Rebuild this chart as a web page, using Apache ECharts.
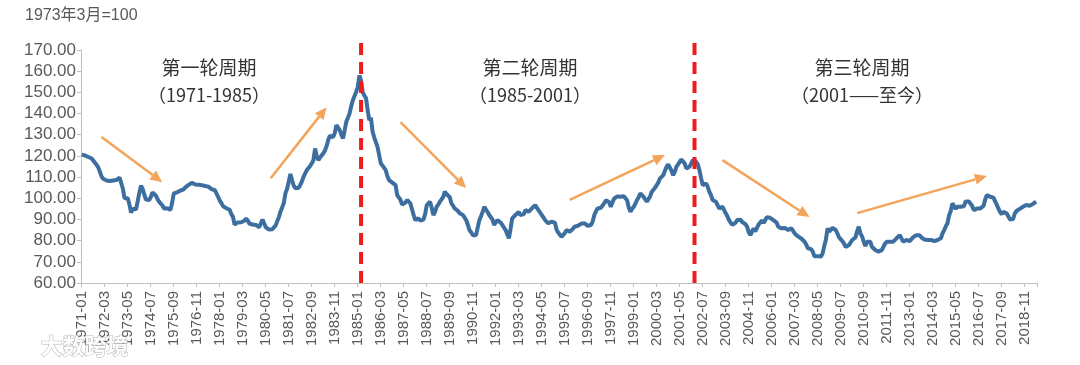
<!DOCTYPE html>
<html>
<head>
<meta charset="utf-8">
<script src="https://cdn.jsdelivr.net/npm/echarts@6/dist/echarts.min.js"></script>
<style>
html,body{margin:0;padding:0;background:#fff;}
#chart{width:1080px;height:365px;}
</style>
</head>
<body>
<div id="chart"></div>
<script>
// ---- data ----
const startYear = 1971;
// monthly index values, 1971-01 .. 2019-06 (1973-03 = 100)
const dollarIndex = [
  120.6,120.4,120.2,119.9,119.5,119.2,118.8,117.9,116.8,116.0,114.6,112.5, // 1971
  110.3,109.2,108.6,108.4,108.3,108.2,108.5,108.4,108.3,108.6,109.3,109.8, // 1972
  110.2,104.5,100.0,100.6,100.0,97.0,93.2,95.0,95.3,94.8,98.5,102.5,       // 1973
  106.0,104.5,101.8,99.4,98.9,99.2,100.6,102.8,102.2,101.3,99.8,98.4,      // 1974
  98.2,96.7,95.2,95.0,95.3,95.2,94.5,98.0,102.3,103.0,102.8,103.3,         // 1975
  103.6,103.8,104.2,105.2,105.6,106.3,107.0,107.3,107.0,106.5,106.2,106.4, // 1976
  106.4,106.2,106.0,105.8,105.7,105.5,104.6,104.3,104.2,103.8,103.3,100.6, // 1977
  98.9,97.7,96.2,95.6,95.3,95.0,94.6,92.5,91.3,87.6,87.9,88.6,             // 1978
  88.4,88.7,89.2,89.4,90.5,89.5,88.1,87.6,87.6,88.2,87.4,86.9,             // 1979
  86.3,86.5,90.0,89.8,86.3,85.8,85.2,84.8,85.4,86.3,87.2,89.2,             // 1980
  91.2,93.8,95.8,97.9,102.5,104.5,108.0,111.5,108.5,106.0,104.7,104.2,     // 1981
  105.0,106.3,108.0,110.2,110.6,113.3,114.0,115.2,116.5,118.0,123.5,120.0, // 1982
  118.0,119.3,120.0,121.2,122.5,124.6,127.5,129.5,128.6,128.9,130.8,134.5, // 1983
  134.5,132.2,130.0,128.3,132.0,136.1,138.0,140.0,143.5,146.3,147.1,150.2, // 1984
  152.5,158.0,155.5,150.0,148.5,147.3,141.6,136.9,138.0,131.5,128.8,126.5, // 1985
  124.3,120.5,116.5,115.5,114.8,113.3,110.5,108.6,108.2,107.4,106.5,106.2, // 1986
  101.5,100.7,99.2,97.0,96.8,98.0,99.2,98.4,97.6,96.8,92.1,89.7,           // 1987
  90.5,90.5,89.5,89.9,89.9,92.5,96.8,97.6,98.4,95.5,92.1,93.5,             // 1988
  96.0,97.0,98.4,99.5,100.7,103.1,102.0,101.5,100.5,97.6,96.5,95.2,        // 1989
  95.2,94.0,92.9,93.3,92.1,91.5,89.7,87.5,85.0,84.0,82.6,82.6,             // 1990
  82.6,83.0,89.7,91.5,93.6,96.0,96.0,93.5,92.1,91.3,90.0,87.4,             // 1991
  87.4,89.7,90.5,88.5,87.4,86.5,85.0,83.0,81.1,85.5,90.5,91.2,             // 1992
  92.1,93.0,93.6,92.0,91.3,92.5,94.4,94.0,93.6,94.2,95.2,96.0,             // 1993
  96.8,96.0,94.4,94.0,92.1,91.0,89.7,89.3,88.2,87.5,88.9,89.2,             // 1994
  88.5,85.2,83.8,83.0,81.8,82.0,83.5,85.0,84.8,84.2,84.8,85.6,             // 1995
  86.6,86.8,87.0,87.4,88.0,88.5,88.2,87.4,87.0,87.3,87.4,89.0,             // 1996
  92.1,93.8,95.2,96.0,95.5,96.0,97.6,99.0,99.2,98.2,96.0,98.0,             // 1997
  99.8,100.7,100.9,100.7,100.7,100.4,101.0,101.5,99.0,95.5,93.6,95.0,      // 1998
  96.0,97.5,99.2,100.5,102.3,101.5,100.7,99.5,98.4,99.0,101.0,103.1,       // 1999
  103.5,105.0,106.2,107.5,109.4,110.2,110.9,113.0,114.9,116.0,116.5,113.0, // 2000
  110.9,112.5,114.9,116.0,117.2,118.3,118.8,116.5,114.1,114.5,114.9,116.5, // 2001
  118.0,118.8,117.2,116.0,113.3,109.5,106.2,107.0,107.0,105.5,103.1,101.5, // 2002
  99.2,99.0,98.4,97.8,95.2,95.5,96.0,96.3,92.9,91.5,89.7,88.5,             // 2003
  87.4,87.2,88.5,89.7,90.2,89.9,88.8,89.0,87.8,86.6,84.0,82.6,             // 2004
  83.5,85.8,84.3,86.0,87.6,88.3,89.5,88.4,89.6,91.0,91.6,90.8,             // 2005
  90.2,89.7,89.9,88.5,86.6,86.0,85.8,85.5,86.0,85.8,85.0,84.8,             // 2006
  85.8,85.2,83.4,82.8,82.0,81.8,81.0,81.5,79.5,78.2,76.4,76.8,             // 2007
  76.0,74.8,72.6,72.4,72.6,72.8,72.5,74.0,77.5,80.5,85.8,84.2,             // 2008
  84.2,86.0,86.6,85.0,83.4,81.5,81.1,79.8,78.7,77.0,76.4,77.9,             // 2009
  78.5,80.3,81.0,81.5,84.5,86.6,83.4,82.0,79.5,77.5,79.5,80.3,             // 2010
  79.5,77.1,76.5,75.6,75.0,74.8,74.8,75.5,77.1,78.5,79.5,79.0,             // 2011
  79.5,78.7,79.5,79.8,81.1,82.0,82.6,82.0,79.5,79.8,80.3,80.0,             // 2012
  79.8,79.5,81.5,82.3,82.6,82.6,82.6,81.6,81.1,80.5,80.6,80.3,             // 2013
  80.6,80.3,80.0,79.8,79.6,80.3,80.0,81.1,83.5,85.0,86.8,88.2,             // 2014
  92.0,94.0,97.6,97.0,95.0,96.0,96.5,96.0,96.0,96.2,98.5,99.2,             // 2015
  98.5,97.6,96.5,94.4,94.0,95.2,95.8,95.2,95.4,96.5,99.5,101.5,            // 2016
  101.0,100.7,100.5,100.3,98.5,97.0,95.2,93.5,92.5,93.6,93.5,92.9,         // 2017
  91.5,90.0,89.7,90.2,92.9,94.0,94.4,95.0,95.3,96.0,96.8,96.8,             // 2018
  96.3,96.5,96.8,97.3,97.6,98.4                                            // 2019
];
const yTicks = {min: 60, max: 170, step: 10};
const unitNote = '1973年3月=100';
const cycleDividers = ['1985-03', '2002-02'];
const cycleTitles = ['第一轮周期', '第二轮周期', '第三轮周期'];
const cycleSpans = ['（1971-1985）', '（1985-2001）', '（2001——至今）'];
// trend arrows: [start month, start value, end month, end value]
const trendArrows = [
  ['1972-01', 128.9, '1975-02', 107.6],
  ['1980-08', 109.5, '1983-06', 143.0],
  ['1987-03', 135.9, '1990-07', 104.8],
  ['1995-10', 99.2, '2000-08', 120.4],
  ['2003-07', 118.0, '2007-12', 91.1],
  ['2010-05', 93.0, '2016-12', 110.5]
];
const watermark = '大数跨境';

// ---- build ----
const categories = [];
for (let i = 0; i < dollarIndex.length; i++) {
  const y = startYear + Math.floor(i / 12), m = i % 12 + 1;
  categories.push(y + '-' + (m < 10 ? '0' : '') + m);
}
const idx = c => categories.indexOf(c);

const chart = echarts.init(document.getElementById('chart'));
const gray = '#595959';
const axisGray = '#bfbfbf';
const orange = '#F4A45A';

const cycleX = [209, 530, 862];
const graphics = [
  {type: 'text', left: 25, top: 8, style: {text: unitNote, fill: gray, font: '16px "Liberation Sans", Arial, "Noto Sans CJK SC"'}},
  {type: 'text', left: 40, top: 334, z: 100, style: {text: watermark, fill: 'rgba(255,255,255,0.92)', stroke: 'rgba(150,150,150,0.7)', lineWidth: 1, font: 'bold 22px "Noto Sans CJK SC"'}}
];
cycleTitles.forEach((t, i) => {
  graphics.push({type: 'text', x: cycleX[i], y: 68, style: {text: t, fill: '#333', font: '19px "Noto Sans CJK SC"', align: 'center', verticalAlign: 'middle'}});
  graphics.push({type: 'text', x: cycleX[i], y: 95, style: {text: cycleSpans[i], fill: '#333', font: '18px "Noto Sans CJK SC"', align: 'center', verticalAlign: 'middle'}});
});

chart.setOption({
  animation: false,
  backgroundColor: '#fff',
  grid: {left: 81, right: 43, top: 50, bottom: 82, containLabel: false},
  xAxis: {
    type: 'category',
    data: categories,
    boundaryGap: true,
    axisLine: {lineStyle: {color: axisGray, width: 1}},
    axisTick: {show: true, interval: 13, length: 4, lineStyle: {color: axisGray}},
    axisLabel: {interval: 13, rotate: 90, color: gray, fontSize: 15, fontFamily: '"Liberation Sans", Arial', margin: 8},
    splitLine: {show: false}
  },
  yAxis: {
    type: 'value',
    min: yTicks.min, max: yTicks.max, interval: yTicks.step,
    axisLine: {show: true, lineStyle: {color: axisGray, width: 1}},
    axisTick: {show: true, length: 4, lineStyle: {color: axisGray}},
    axisLabel: {color: gray, fontSize: 17, fontFamily: '"Liberation Sans", Arial', margin: 5, formatter: v => v.toFixed(2)},
    splitLine: {show: false}
  },
  series: [
    {
      type: 'line',
      data: dollarIndex,
      showSymbol: false,
      symbol: 'none',
      lineStyle: {color: '#3C6E9F', width: 4},
      z: 2
    },
    {
      type: 'custom',
      z: 5,
      clip: false,
      encode: {x: 0, y: 1},
      data: cycleDividers.map(c => [idx(c), yTicks.min]),
      renderItem: (params, api) => {
        const p0 = api.coord([api.value(0), yTicks.min]);
        const p1 = api.coord([api.value(0), yTicks.max]);
        return {type: 'line', shape: {x1: p0[0], y1: p0[1], x2: p1[0], y2: p1[1] - 12},
          style: {stroke: '#EE1C1C', lineWidth: 4, lineDash: [12, 7]}};
      }
    },
    {
      type: 'custom',
      z: 4,
      clip: false,
      encode: {x: 0, y: 1},
      data: trendArrows.map(a => [idx(a[0]), a[1], idx(a[2]), a[3]]),
      renderItem: (params, api) => {
        const a = api.coord([api.value(0), api.value(1)]);
        const b = api.coord([api.value(2), api.value(3)]);
        const dx = b[0] - a[0], dy = b[1] - a[1];
        const len = Math.sqrt(dx * dx + dy * dy);
        const ux = dx / len, uy = dy / len;
        const hl = 12, hw = 5.5;
        const bx = b[0] - ux * hl, by = b[1] - uy * hl;
        return {type: 'group', children: [
          {type: 'line', shape: {x1: a[0], y1: a[1], x2: bx, y2: by}, style: {stroke: orange, lineWidth: 2.5}},
          {type: 'polygon', shape: {points: [[b[0], b[1]], [bx - uy * hw, by + ux * hw], [bx + uy * hw, by - ux * hw]]}, style: {fill: orange}}
        ]};
      }
    }
  ],
  graphic: graphics
});
</script>
</body>
</html>
